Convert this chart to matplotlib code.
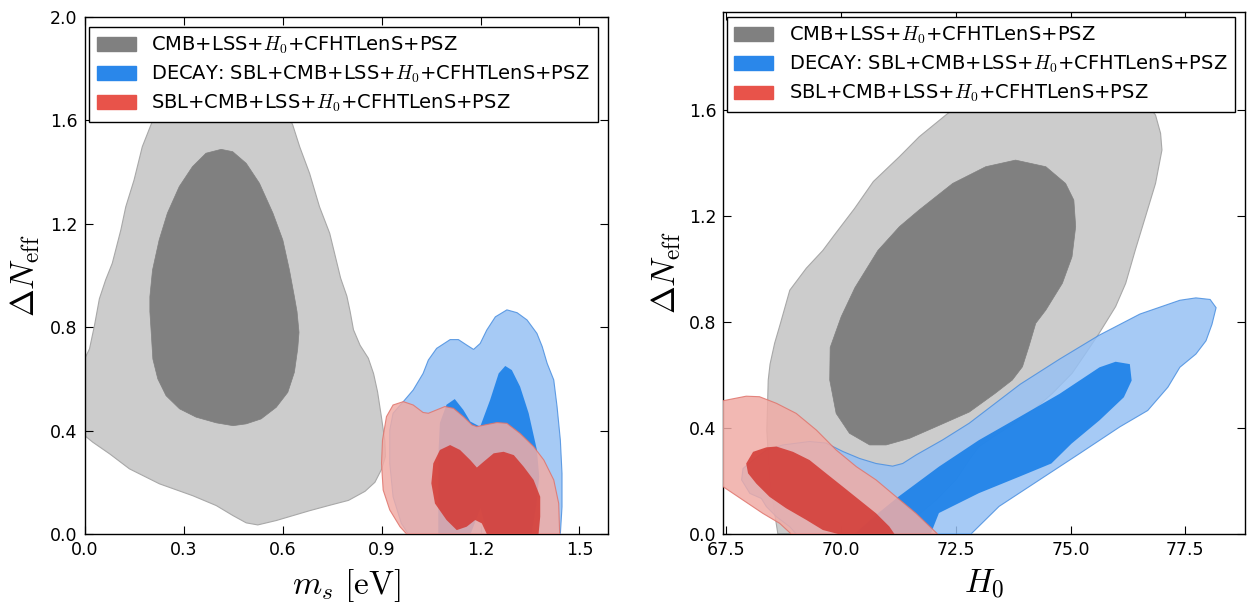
import matplotlib
matplotlib.use('Agg')
import matplotlib.pyplot as plt
from matplotlib.patches import Patch

plt.rcParams.update({
    'font.family': 'DejaVu Sans',
    'mathtext.fontset': 'cm',
    'xtick.direction': 'in',
    'ytick.direction': 'in',
    'xtick.top': True,
    'ytick.right': True,
    'xtick.major.size': 6,
    'ytick.major.size': 6,
    'xtick.labelsize': 12.5,
    'ytick.labelsize': 12.5,
    'axes.linewidth': 1.0,
})

labels = [r'CMB+LSS+$H_0$+CFHTLenS+PSZ',
          r'DECAY: SBL+CMB+LSS+$H_0$+CFHTLenS+PSZ',
          r'SBL+CMB+LSS+$H_0$+CFHTLenS+PSZ']

# ---- left panel: m_s vs Delta N_eff (contour outlines)
ms_gray95 = [0.0, 0.015, 0.03, 0.045, 0.064, 0.084, 0.110, 0.125, 0.150, 0.175, 0.201,
             0.24, 0.30, 0.40, 0.50, 0.58, 0.631, 0.652, 0.682, 0.712, 0.743, 0.776,
             0.795, 0.805, 0.815, 0.835, 0.86, 0.876, 0.888, 0.90, 0.91, 0.912, 0.90,
             0.88, 0.85, 0.80, 0.74, 0.682, 0.581, 0.525, 0.49, 0.45, 0.399, 0.328,
             0.227, 0.136, 0.076, 0.025, 0.0]
dn_gray95 = [0.677, 0.716, 0.806, 0.91, 0.983, 1.047, 1.176, 1.266, 1.369, 1.498, 1.582,
             1.70, 1.78, 1.82, 1.80, 1.72, 1.582, 1.498, 1.395, 1.266, 1.163, 0.99,
             0.92, 0.86, 0.79, 0.73, 0.68, 0.62, 0.55, 0.45, 0.36, 0.30, 0.25,
             0.20, 0.165, 0.13, 0.11, 0.09, 0.052, 0.035, 0.043, 0.071, 0.11, 0.148,
             0.194, 0.252, 0.31, 0.355, 0.381]
ms_gray68 = [0.414, 0.449, 0.49, 0.53, 0.571, 0.601, 0.621, 0.636, 0.644, 0.65, 0.646,
             0.636, 0.616, 0.581, 0.535, 0.49, 0.45, 0.399, 0.338, 0.288, 0.247, 0.222,
             0.207, 0.202, 0.198, 0.198, 0.206, 0.226, 0.251, 0.287, 0.327, 0.368]
dn_gray68 = [1.488, 1.479, 1.434, 1.357, 1.241, 1.137, 1.021, 0.918, 0.86, 0.78, 0.716,
             0.626, 0.548, 0.49, 0.445, 0.426, 0.419, 0.43, 0.452, 0.484, 0.535, 0.6,
             0.677, 0.781, 0.86, 0.918, 1.021, 1.137, 1.241, 1.344, 1.421, 1.473]

ms_blue95 = [0.981, 0.96, 0.935, 0.925, 0.925, 0.935, 0.966, 0.996, 1.026, 1.042, 1.067,
             1.108, 1.133, 1.158, 1.179, 1.199, 1.219, 1.245, 1.28, 1.311, 1.341, 1.371,
             1.387, 1.402, 1.422, 1.432, 1.442, 1.447, 1.447, 1.442]
dn_blue95 = [0.0, 0.041, 0.144, 0.273, 0.402, 0.467, 0.512, 0.557, 0.621, 0.673, 0.718,
             0.752, 0.752, 0.731, 0.714, 0.737, 0.789, 0.840, 0.867, 0.856, 0.828, 0.776,
             0.725, 0.660, 0.596, 0.493, 0.363, 0.234, 0.105, 0.0]
ms_blue68 = [1.072, 1.072, 1.077, 1.097, 1.122, 1.148, 1.169, 1.199, 1.229, 1.255, 1.275,
             1.295, 1.32, 1.346, 1.371, 1.378, 1.37, 1.355, 1.22, 1.20, 1.17]
dn_blue68 = [0.0, 0.30, 0.43, 0.50, 0.522, 0.48, 0.435, 0.415, 0.518, 0.621, 0.65,
             0.634, 0.57, 0.467, 0.325, 0.222, 0.12, 0.0, 0.0, 0.10, 0.0]

ms_red95 = [0.966, 0.935, 0.915, 0.903, 0.90, 0.905, 0.925, 0.956, 0.976, 1.44, 1.437,
            1.422, 1.392, 1.361, 1.32, 1.28, 1.25, 1.214, 1.189, 1.174, 1.148, 1.118,
            1.092, 1.067, 1.042, 1.026, 0.996]
dn_red95 = [0.512, 0.499, 0.454, 0.363, 0.273, 0.17, 0.093, 0.028, 0.0, 0.0, 0.118,
            0.209, 0.286, 0.338, 0.389, 0.428, 0.431, 0.422, 0.415, 0.422, 0.454, 0.486,
            0.493, 0.48, 0.467, 0.47, 0.499]
ms_red68 = [1.108, 1.138, 1.169, 1.189, 1.209, 1.24, 1.27, 1.301, 1.331, 1.361, 1.381,
            1.381, 1.376, 1.219, 1.204, 1.184, 1.158, 1.128, 1.097, 1.062, 1.051, 1.057,
            1.077]
dn_red68 = [0.344, 0.325, 0.286, 0.257, 0.279, 0.312, 0.318, 0.305, 0.260, 0.209, 0.144,
            0.067, 0.0, 0.0, 0.041, 0.054, 0.028, 0.015, 0.054, 0.118, 0.196, 0.273,
            0.325]

# ---- right panel: H0 vs Delta N_eff
h0_gray95 = [68.62, 68.55, 68.44, 68.38, 68.41, 68.45, 68.55, 68.67, 68.88, 69.24, 69.6,
             69.85, 70.29, 70.7, 71.27, 71.7, 72.28, 72.8, 74.0, 75.5, 76.5, 76.85,
             76.96, 76.99, 76.85, 76.63, 76.41, 76.2, 75.98, 75.62, 75.33, 75.03, 74.6,
             74.2, 73.8, 73.3, 73.0, 72.79, 72.5, 72.07, 71.6, 71.2]
dn_gray95_r = [0.0, 0.078, 0.204, 0.392, 0.581, 0.641, 0.72, 0.791, 0.92, 1.003, 1.07,
               1.128, 1.228, 1.33, 1.424, 1.499, 1.581, 1.65, 1.72, 1.72, 1.66, 1.581,
               1.512, 1.449, 1.323, 1.197, 1.072, 0.946, 0.858, 0.757, 0.682, 0.606, 0.53,
               0.47, 0.42, 0.365, 0.329, 0.28, 0.204, 0.128, 0.06, 0.0]
h0_gray68 = [73.15, 73.8, 74.46, 74.89, 75.07, 75.11, 75.03, 74.82, 74.46, 74.24, 74.09,
             73.95, 73.73, 73.35, 72.79, 72.07, 71.49, 70.98, 70.62, 70.18, 69.89, 69.75,
             69.76, 70.0, 70.3, 70.8, 71.27, 71.7, 72.43]
dn_gray68_r = [1.386, 1.411, 1.386, 1.323, 1.26, 1.16, 1.046, 0.946, 0.845, 0.795, 0.707,
               0.631, 0.581, 0.53, 0.46, 0.405, 0.361, 0.336, 0.336, 0.38, 0.455, 0.581,
               0.704, 0.82, 0.93, 1.07, 1.16, 1.223, 1.323]

h0_blue95 = [69.02, 68.88, 68.59, 68.37, 68.26, 68.01, 67.83, 67.86, 68.08, 68.37, 68.73,
             69.31, 69.67, 70.04, 70.4, 70.76, 71.12, 71.34, 71.63, 72.21, 72.79, 73.9,
             74.76, 75.62, 76.51, 77.38, 77.73, 78.04, 78.17, 78.08, 77.95, 77.73, 77.38,
             77.12, 76.68, 76.07, 75.2, 74.32, 73.44, 72.83]
dn_blue95_r = [0.0, 0.027, 0.065, 0.103, 0.134, 0.153, 0.204, 0.247, 0.279, 0.317, 0.336,
               0.349, 0.343, 0.311, 0.285, 0.266, 0.256, 0.266, 0.298, 0.355, 0.418, 0.565,
               0.66, 0.75, 0.83, 0.882, 0.891, 0.885, 0.854, 0.791, 0.729, 0.679, 0.629,
               0.554, 0.466, 0.404, 0.304, 0.204, 0.104, 0.0]
h0_blue68 = [70.29, 70.81, 71.25, 72.13, 73.0, 73.88, 74.76, 75.63, 75.98, 76.29, 76.33,
             76.16, 75.63, 75.02, 74.58, 73.88, 73.0, 72.13, 71.95]
dn_blue68_r = [0.0, 0.079, 0.141, 0.254, 0.354, 0.441, 0.529, 0.629, 0.65, 0.641, 0.579,
               0.516, 0.429, 0.341, 0.266, 0.216, 0.154, 0.079, 0.0]

h0_red95 = [67.2, 67.43, 67.93, 68.22, 68.59, 69.02, 69.46, 69.89, 70.33, 70.76, 71.2,
            71.63, 72.1, 68.91, 68.66, 68.29, 67.86, 67.43, 67.2]
dn_red95_r = [0.50, 0.503, 0.52, 0.518, 0.493, 0.455, 0.392, 0.317, 0.254, 0.204, 0.14,
              0.078, 0.0, 0.0, 0.04, 0.078, 0.128, 0.178, 0.20]
h0_red68 = [67.93, 68.08, 68.37, 68.59, 68.95, 69.31, 69.67, 70.04, 70.4, 70.76, 71.05,
            71.16, 69.93, 69.6, 69.24, 68.8, 68.44, 68.15, 67.97]
dn_red68_r = [0.266, 0.31, 0.327, 0.33, 0.31, 0.279, 0.229, 0.178, 0.128, 0.078, 0.028,
              0.0, 0.0, 0.015, 0.053, 0.097, 0.14, 0.19, 0.229]

ms_ticks = [0.0, 0.3, 0.6, 0.9, 1.2, 1.5]
dn_ticks_left = [0.0, 0.4, 0.8, 1.2, 1.6, 2.0]
h0_ticks = [67.5, 70.0, 72.5, 75.0, 77.5]
dn_ticks_right = [0.0, 0.4, 0.8, 1.2, 1.6]

A = 0.85
sty = {
    'gray95': dict(facecolor='#cccccc', edgecolor='#a8a8a8', lw=0.8, zorder=1),
    'gray68': dict(facecolor='#808080', edgecolor='#808080', lw=0.5, zorder=2),
    'blue95': dict(facecolor='#97c1f4', edgecolor='#4a8fe0', lw=0.8, alpha=A, zorder=3),
    'blue68': dict(facecolor='#127ce8', edgecolor='none', alpha=A, zorder=4),
    'red95':  dict(facecolor='#f0aca6', edgecolor='#e0746c', lw=0.8, alpha=A, zorder=5),
    'red68':  dict(facecolor='#d33832', edgecolor='none', alpha=A, zorder=6),
}

fig = plt.figure(figsize=(12.47, 6.05), dpi=100)
axL = fig.add_axes([0.0678, 0.1174, 0.4194, 0.8545])
axR = fig.add_axes([0.5800, 0.1174, 0.4184, 0.8628])

axL.fill(ms_gray95, dn_gray95, **sty['gray95'])
axL.fill(ms_gray68, dn_gray68, **sty['gray68'])
axL.fill(ms_blue95, dn_blue95, **sty['blue95'])
axL.fill(ms_blue68, dn_blue68, **sty['blue68'])
axL.fill(ms_red95, dn_red95, **sty['red95'])
axL.fill(ms_red68, dn_red68, **sty['red68'])

axR.fill(h0_gray95, dn_gray95_r, **sty['gray95'])
axR.fill(h0_gray68, dn_gray68_r, **sty['gray68'])
axR.fill(h0_blue95, dn_blue95_r, **sty['blue95'])
axR.fill(h0_blue68, dn_blue68_r, **sty['blue68'])
axR.fill(h0_red95, dn_red95_r, **sty['red95'])
axR.fill(h0_red68, dn_red68_r, **sty['red68'])

axL.set_xlim(0, 1.585)
axL.set_ylim(0, 2.0)
axL.set_xticks(ms_ticks)
axL.set_yticks(dn_ticks_left)
axR.set_xlim(67.43, 78.8)
axR.set_ylim(0, 1.97)
axR.set_xticks(h0_ticks)
axR.set_yticks(dn_ticks_right)

axL.set_xlabel(r'$m_s\ [\mathrm{eV}]$', fontsize=24, labelpad=6)
axR.set_xlabel(r'$H_0$', fontsize=24, labelpad=6)
axL.set_ylabel(r'$\Delta N_{\rm eff}$', fontsize=24, labelpad=6)
axR.set_ylabel(r'$\Delta N_{\rm eff}$', fontsize=24, labelpad=4)
for ax in (axL, axR):
    ax.tick_params(pad=5)

handles = [Patch(facecolor='#808080', edgecolor='#808080'),
           Patch(facecolor='#2a87ea', edgecolor='#2a87ea'),
           Patch(facecolor='#e8534a', edgecolor='#e8534a')]
for ax, anchor in ((axL, (0.0084, 0.981)), (axR, (0.0065, 0.990))):
    leg = ax.legend(handles, labels, loc='upper left', bbox_to_anchor=anchor,
                    borderaxespad=0, fontsize=14, fancybox=False, framealpha=1,
                    edgecolor='black', labelspacing=0.4)
    leg.get_frame().set_linewidth(1.0)
    leg.set_zorder(10)

fig.savefig('out.png', dpi=100)
